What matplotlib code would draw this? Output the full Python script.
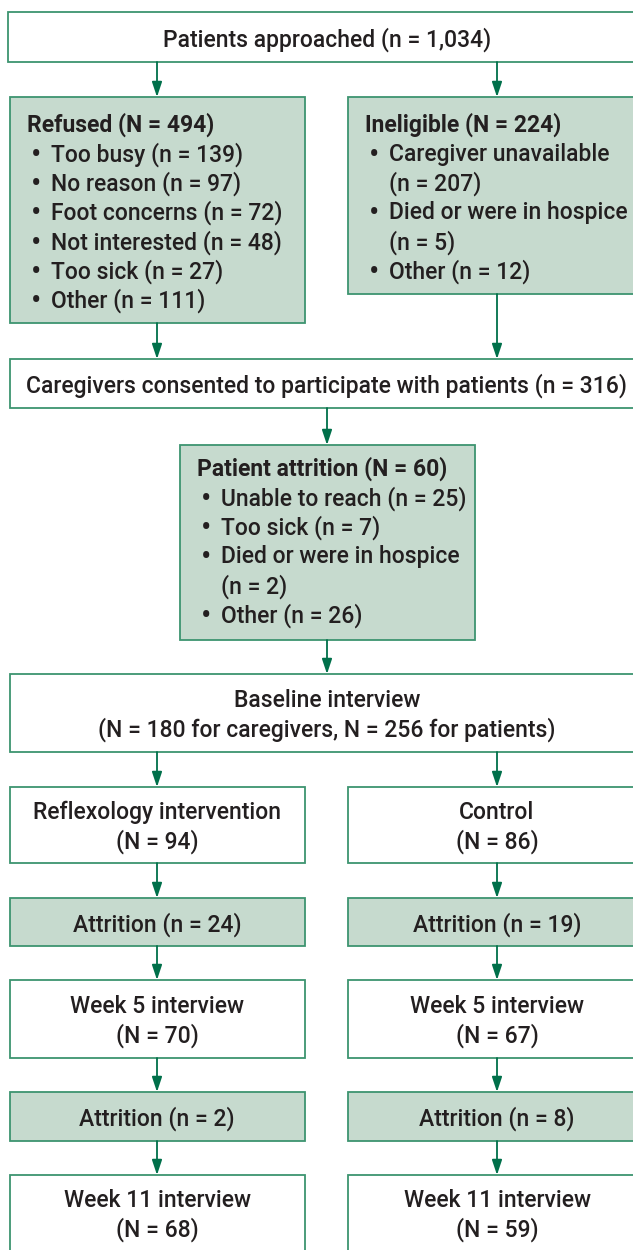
import matplotlib.pyplot as plt
from matplotlib.patches import Rectangle

plt.rcParams['font.family'] = ['Roboto', 'Liberation Sans', 'DejaVu Sans']

# --- textos del diagrama ---
top_text = 'Patients approached (n = 1,034)'
refused_title = 'Refused (N = 494)'
refused_items = ['Too busy (n = 139)', 'No reason (n = 97)', 'Foot concerns (n = 72)',
                 'Not interested (n = 48)', 'Too sick (n = 27)', 'Other (n = 111)']
inelig_title = 'Ineligible (N = 224)'
inelig_items = [['Caregiver unavailable', '(n = 207)'],
                ['Died or were in hospice', '(n = 5)'],
                ['Other (n = 12)']]
consent_text = 'Caregivers consented to participate with patients (n = 316)'
attr_title = 'Patient attrition (N = 60)'
attr_items = [['Unable to reach (n = 25)'], ['Too sick (n = 7)'],
              ['Died or were in hospice', '(n = 2)'], ['Other (n = 26)']]
baseline_text = 'Baseline interview\n(N = 180 for caregivers, N = 256 for patients)'
groups = ['Reflexology intervention', 'Control']
n_group = [94, 86]
attr_wk5 = [24, 19]
n_wk5 = [70, 67]
attr_wk11 = [2, 8]
n_wk11 = [68, 59]

FILL = '#c6dace'
EDGE = '#3d9470'
ARROW = '#00704a'
TXT = '#231f20'
FS = 16.5
W = 500

fig = plt.figure(figsize=(6.33, 12.5), dpi=100)
ax = fig.add_axes([0, 0, 1, 1])
ax.set_xlim(0, 633)
ax.set_ylim(1250, 0)
ax.axis('off')


def box(x0, y0, x1, y1, shaded=False):
    ax.add_patch(Rectangle((x0, y0), x1 - x0, y1 - y0, facecolor=FILL if shaded else 'white',
                           edgecolor=EDGE, linewidth=1.3))


def arrow(x, y0, y1):
    ax.annotate('', xy=(x, y1), xytext=(x, y0),
                arrowprops=dict(arrowstyle='-|>,head_length=0.9,head_width=0.3',
                                color=ARROW, lw=1.3, shrinkA=0, shrinkB=0))


def ctext(x, y, s):
    ax.text(x, y + 1.5, s, ha='center', va='center', fontsize=FS, color=TXT,
            linespacing=1.3, fontweight=W)


def bullet_list(x, y, title, items, dy=29.3):
    ax.text(x, y, title, ha='left', va='center', fontsize=FS, fontweight='bold', color=TXT)
    y += dy
    for it in items:
        lines = it if isinstance(it, list) else [it]
        ax.text(x + 4, y + 1, '\u2022', ha='left', va='center', fontsize=FS * 1.35, color=TXT)
        for ln in lines:
            ax.text(x + 24, y, ln, ha='left', va='center', fontsize=FS, color=TXT,
                    fontweight=W)
            y += dy


L = (10, 305)
R = (348, 650)
cL, cR, cM = 157, 497, 327

# fila superior
box(8, 12, 650, 62)
ctext(cM, 38, top_text)
arrow(cL, 62, 97)
arrow(cR, 62, 97)

box(L[0], 97, L[1], 323, True)
bullet_list(27, 125, refused_title, refused_items)
box(R[0], 97, R[1], 294, True)
bullet_list(365, 125, inelig_title, inelig_items)

arrow(cL, 323, 359)
arrow(cR, 294, 359)
box(L[0], 359, 650, 408)
ctext(cM, 384, consent_text)

arrow(cM, 408, 445)
box(180, 445, 475, 640, True)
bullet_list(197, 469, attr_title, attr_items)

arrow(cM, 640, 674)
box(L[0], 674, 650, 752)
ctext(cM, 714, baseline_text)

for i, (x0, x1) in enumerate([L, R]):
    cx = cL if i == 0 else cR
    arrow(cx, 752, 787)
    box(x0, 787, x1, 863)
    ctext(cx, 826, f'{groups[i]}\n(N = {n_group[i]})')
    arrow(cx, 863, 898)
    box(x0, 898, x1, 946, True)
    ctext(cx, 923, f'Attrition (n = {attr_wk5[i]})')
    arrow(cx, 946, 980)
    box(x0, 980, x1, 1058)
    ctext(cx, 1020, f'Week 5 interview\n(N = {n_wk5[i]})')
    arrow(cx, 1058, 1092)
    box(x0, 1092, x1, 1141, True)
    ctext(cx, 1117, f'Attrition (n = {attr_wk11[i]})')
    arrow(cx, 1141, 1175)
    box(x0, 1175, x1, 1270)
    ctext(cx, 1214, f'Week 11 interview\n(N = {n_wk11[i]})')

fig.savefig('out.png', dpi=100)
